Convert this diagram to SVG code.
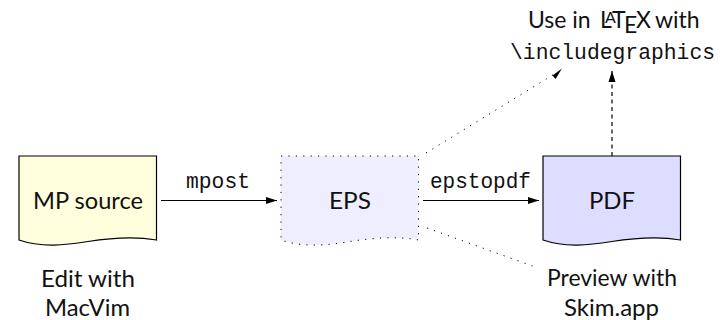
<svg xmlns="http://www.w3.org/2000/svg" width="722" height="320" viewBox="0 0 722 320">
<style>
text{font-family:"Lato","Open Sans",sans-serif;font-size:23px;fill:#111;text-anchor:middle}
.m{font-family:"Liberation Mono",monospace;font-size:22px}
.doc{stroke:#000;stroke-width:1.2}
.dot{stroke:#000;stroke-width:1;stroke-dasharray:1.2 6.2;fill:none}
.con{stroke:#000;stroke-width:1.2;fill:none}
</style>
<defs>
<marker id="a" markerUnits="userSpaceOnUse" markerWidth="12" markerHeight="8" refX="11" refY="4" orient="auto"><path d="M0 0.500L11 4L0 7.500Z" fill="#000"/></marker>
</defs>
<g id="connectors">
<path class="con" d="M161 200.500H277" marker-end="url(#a)"/>
<path class="con" d="M423 200.500H539" marker-end="url(#a)"/>
<path class="con" d="M612 156V71" stroke-dasharray="4 3.500" marker-end="url(#a)"/>
<path class="dot" d="M426 153L556 73"/>
<path d="M552.500 75.500L562 68.500L555.500 79Z" fill="#000"/>
<path class="dot" d="M427 228L538 268"/>
<text class="m" x="218" y="188" textLength="64" lengthAdjust="spacingAndGlyphs">mpost</text>
<text class="m" x="480.500" y="188" textLength="101" lengthAdjust="spacingAndGlyphs">epstopdf</text>
</g>
<g id="mp">
<path class="doc" fill="#ffffdd" d="M19 156H156.500V240C134 236 110 238 88 241.500C66 245 42 248 19 240Z"/>
<text x="88" y="209" textLength="110" lengthAdjust="spacingAndGlyphs">MP source</text>
</g>
<g id="eps">
<path class="dot" style="fill:#eeeeff" d="M281 156H418.500V240C396 236 372 238 350 241.500C328 245 304 248 281 240Z"/>
<text x="350" y="209" textLength="42" lengthAdjust="spacingAndGlyphs">EPS</text>
</g>
<g id="pdf">
<path class="doc" fill="#ddddff" d="M543 156H680.500V240C658 236 634 238 612 241.500C590 245 566 248 543 240Z"/>
<text x="612" y="209" textLength="46" lengthAdjust="spacingAndGlyphs">PDF</text>
</g>
<g id="edit"><text x="88" y="287" textLength="94" lengthAdjust="spacingAndGlyphs">Edit with</text><text x="87.500" y="316" textLength="85" lengthAdjust="spacingAndGlyphs">MacVim</text></g>
<g id="preview"><text x="612" y="286" textLength="130" lengthAdjust="spacingAndGlyphs">Preview with</text><text x="611.500" y="316" textLength="95" lengthAdjust="spacingAndGlyphs">Skim.app</text></g>
<g id="use">
<text style="text-anchor:start" y="28"><tspan x="528">Use in</tspan><tspan x="600">L</tspan><tspan x="605" y="23" font-size="16">A</tspan><tspan x="612" y="28">T</tspan><tspan x="624" y="33">E</tspan><tspan x="636" y="28">X</tspan><tspan x="655">with</tspan></text>
<text class="m" x="612.500" y="59" textLength="205" lengthAdjust="spacingAndGlyphs">\includegraphics</text>
</g>
</svg>
